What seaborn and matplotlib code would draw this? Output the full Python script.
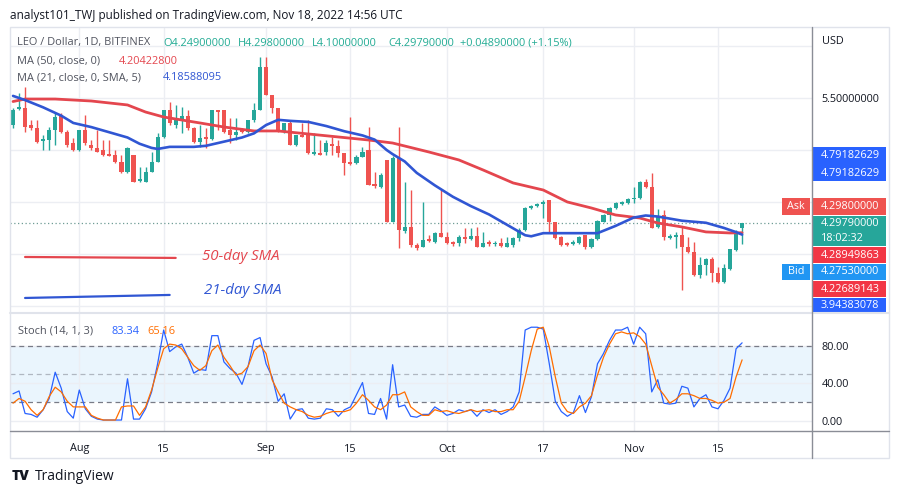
import numpy as np
import pandas as pd
import matplotlib
matplotlib.use("Agg")
import matplotlib.pyplot as plt
import seaborn as sns
from matplotlib.lines import Line2D
from matplotlib.patches import Rectangle

# ---------------- data ----------------
start_date = "2022-07-21"
opens = [5.240, 5.394, 5.404, 5.240, 5.212, 5.087, 5.096, 5.192, 5.337, 5.173,
         5.067, 5.000, 5.192, 5.048, 5.019, 5.000, 4.962, 4.952, 4.885, 4.788,
         4.952, 4.702, 4.692, 4.788, 4.885, 5.125, 5.385, 5.240, 5.298, 5.327,
         5.212, 5.077, 5.125, 5.106, 5.385, 5.385, 5.192, 5.144, 5.192, 5.173,
         5.288, 5.385, 5.798, 5.529, 5.404, 5.173, 5.260, 5.048, 5.144, 5.144,
         4.962, 4.971, 4.981, 5.058, 5.038, 4.971, 4.885, 4.875, 4.933, 5.000,
         4.673, 4.644, 4.904, 4.308, 4.923, 4.221, 4.260, 4.087, 4.067, 4.144,
         4.115, 4.202, 4.164, 4.115, 4.106, 4.164, 4.144, 4.173, 4.067, 4.115,
         4.096, 4.106, 4.067, 4.087, 4.154, 4.231, 4.442, 4.462, 4.481, 4.519,
         4.308, 4.164, 4.106, 4.096, 4.106, 4.183, 4.067, 4.144, 4.308, 4.375,
         4.442, 4.481, 4.490, 4.529, 4.538, 4.692, 4.644, 4.260, 4.375, 4.154,
         4.164, 4.183, 4.067, 4.019, 3.798, 3.894, 3.952, 3.817, 3.731, 3.856,
         4.038, 4.249]
highs = [5.404, 5.548, 5.606, 5.288, 5.288, 5.144, 5.221, 5.356, 5.356, 5.192,
         5.115, 5.192, 5.337, 5.096, 5.192, 5.096, 5.096, 5.000, 4.952, 5.029,
         4.952, 4.837, 4.837, 4.981, 5.163, 5.385, 5.462, 5.433, 5.413, 5.385,
         5.221, 5.240, 5.212, 5.385, 5.385, 5.385, 5.308, 5.308, 5.212, 5.288,
         5.452, 5.894, 5.894, 5.529, 5.404, 5.260, 5.288, 5.144, 5.260, 5.288,
         5.163, 5.096, 5.096, 5.125, 5.096, 4.971, 5.317, 4.952, 5.029, 5.221,
         4.788, 4.779, 4.904, 4.942, 5.221, 4.692, 4.615, 4.106, 4.500, 4.183,
         4.212, 4.625, 4.212, 4.125, 4.183, 4.250, 4.250, 4.260, 4.212, 4.135,
         4.125, 4.154, 4.164, 4.164, 4.250, 4.452, 4.471, 4.490, 4.519, 4.519,
         4.308, 4.173, 4.115, 4.135, 4.173, 4.183, 4.154, 4.327, 4.385, 4.452,
         4.500, 4.510, 4.538, 4.644, 4.702, 4.721, 4.779, 4.433, 4.423, 4.192,
         4.212, 4.260, 4.164, 4.115, 3.971, 3.962, 3.971, 3.875, 3.904, 4.048,
         4.231, 4.298]
lows = [5.212, 5.385, 5.173, 5.192, 5.067, 5.000, 5.000, 5.048, 5.163, 5.029,
        4.990, 4.990, 5.048, 5.000, 4.981, 4.942, 4.942, 4.875, 4.779, 4.779,
        4.692, 4.692, 4.692, 4.788, 4.885, 5.115, 5.240, 5.212, 5.163, 5.192,
        5.067, 5.029, 5.019, 5.096, 5.192, 5.163, 5.067, 5.096, 5.163, 5.163,
        5.269, 5.385, 5.529, 5.356, 5.173, 5.163, 5.048, 5.038, 5.125, 4.962,
        4.952, 4.952, 4.952, 4.952, 4.933, 4.760, 4.856, 4.865, 4.933, 4.663,
        4.635, 4.635, 4.308, 4.308, 4.058, 4.202, 4.067, 4.038, 4.067, 4.115,
        4.106, 4.164, 4.096, 4.077, 4.077, 4.106, 4.135, 4.067, 4.067, 4.077,
        4.077, 4.067, 4.067, 4.067, 4.125, 4.221, 4.433, 4.452, 4.346, 4.212,
        4.144, 4.077, 4.077, 4.087, 4.096, 4.048, 4.058, 4.135, 4.308, 4.317,
        4.433, 4.471, 4.481, 4.490, 4.529, 4.635, 4.250, 4.250, 4.135, 4.144,
        4.058, 3.654, 4.010, 3.788, 3.769, 3.798, 3.731, 3.721, 3.721, 3.846,
        4.029, 4.100]
closes = [5.385, 5.413, 5.221, 5.212, 5.077, 5.106, 5.192, 5.317, 5.173, 5.048,
          5.000, 5.192, 5.067, 5.019, 4.981, 4.952, 4.942, 4.885, 4.788, 5.019,
          4.692, 4.721, 4.788, 4.885, 5.125, 5.385, 5.260, 5.308, 5.327, 5.212,
          5.077, 5.115, 5.106, 5.385, 5.365, 5.173, 5.144, 5.173, 5.173, 5.288,
          5.385, 5.798, 5.529, 5.404, 5.173, 5.260, 5.048, 5.144, 5.125, 4.971,
          4.981, 4.952, 5.067, 5.038, 4.971, 4.875, 4.865, 4.933, 4.981, 4.663,
          4.654, 4.760, 4.308, 4.923, 4.231, 4.260, 4.087, 4.058, 4.135, 4.125,
          4.202, 4.164, 4.106, 4.096, 4.164, 4.144, 4.173, 4.067, 4.106, 4.096,
          4.106, 4.077, 4.106, 4.154, 4.231, 4.442, 4.462, 4.481, 4.500, 4.308,
          4.154, 4.087, 4.087, 4.115, 4.164, 4.067, 4.144, 4.317, 4.375, 4.442,
          4.490, 4.500, 4.529, 4.538, 4.692, 4.644, 4.250, 4.356, 4.164, 4.173,
          4.183, 4.067, 4.019, 3.798, 3.894, 3.952, 3.817, 3.731, 3.865, 4.048,
          4.212, 4.2979]

ma50_idx = [0, 2, 7, 13, 19, 22, 25, 31, 35, 40, 44, 49, 54, 59, 63, 69, 74, 78,
            83, 88, 92, 96, 100, 104, 107, 111, 115, 119, 121]
ma50_val = [5.466, 5.490, 5.490, 5.471, 5.433, 5.365, 5.317, 5.260, 5.221, 5.183,
            5.183, 5.154, 5.125, 5.096, 5.067, 4.981, 4.904, 4.808, 4.683, 4.615,
            4.500, 4.442, 4.375, 4.346, 4.298, 4.260, 4.212, 4.202, 4.204]
ma21_idx = [0, 2, 5, 8, 10, 13, 16, 19, 21, 23, 24, 26, 30, 32, 35, 38, 40, 42, 44,
            46, 49, 52, 55, 58, 60, 62, 63, 65, 67, 70, 73, 76, 79, 82, 85, 86, 88,
            91, 94, 97, 100, 103, 105, 107, 111, 115, 118, 120, 121]
ma21_val = [5.52, 5.48, 5.41, 5.33, 5.26, 5.22, 5.17, 5.12, 5.06, 5.02, 5.01, 5.03,
            5.03, 5.04, 5.08, 5.12, 5.16, 5.24, 5.29, 5.28, 5.27, 5.23, 5.18, 5.14,
            5.10, 5.00, 4.96, 4.89, 4.78, 4.66, 4.55, 4.46, 4.38, 4.28, 4.18, 4.17,
            4.20, 4.20, 4.20, 4.20, 4.27, 4.35, 4.37, 4.36, 4.32, 4.30, 4.25, 4.21,
            4.186]

stoch_k = [29, 32, 8, 7, 4, 12, 24, 52, 35, 10, 3, 33, 13, 5, 2, 1, 1, 1, 1, 45,
           2, 2, 13, 31, 61, 97, 74, 79, 82, 68, 51, 55, 54, 91, 91, 63, 56, 51, 39, 58,
           86, 89, 61, 47, 21, 29, 2, 12, 13, 3, 2, 3, 13, 12, 5, 12, 15, 28, 41, 8,
           7, 24, 2, 60, 15, 17, 5, 4, 7, 7, 15, 11, 6, 8, 12, 10, 12, 5, 12, 9,
           12, 7, 10, 15, 31, 97, 100, 100, 98, 61, 21, 10, 5, 9, 27, 9, 26, 61, 72, 86,
           97, 97, 100, 82, 100, 93, 31, 44, 19, 18, 19, 37, 35, 15, 24, 28, 15, 13, 22, 35,
           77, 83.34]
stoch_d = [19, 24, 21, 12, 6, 12, 26, 36, 31, 21, 15, 15, 15, 6, 3, 1, 1, 1, 15, 16,
           16, 6, 15, 33, 56, 77, 82, 81, 77, 68, 59, 54, 59, 75, 81, 68, 59, 49, 51, 58,
           75, 81, 72, 44, 31, 19, 15, 12, 10, 6, 4, 5, 8, 10, 10, 10, 12, 19, 28, 22,
           15, 12, 17, 28, 28, 31, 15, 10, 6, 6, 12, 10, 11, 9, 8, 10, 12, 10, 11, 12,
           10, 10, 12, 12, 21, 47, 75, 98, 100, 79, 47, 19, 10, 8, 15, 19, 27, 49, 68, 82,
           93, 95, 93, 94, 90, 82, 59, 36, 28, 19, 23, 29, 29, 27, 24, 24, 22, 19, 20, 24,
           47, 65.16]

tick_dates = ["2022-08-01", "2022-08-15", "2022-09-01", "2022-09-15",
              "2022-10-01", "2022-10-17", "2022-11-01", "2022-11-15"]
tick_labels = ["Aug", "15", "Sep", "15", "Oct", "17", "Nov", "15"]
price_ticks = [3.5, 4.0, 4.5, 5.0, 5.5, 6.0]
stoch_ticks = [0, 40, 80]

# analyst drawings (index, price)
sma50_note = ([2, 27], [3.971, 3.962])
sma21_note = ([2, 26], [3.577, 3.606])

# right-hand price tags: (top px, bottom px, color, lines)
tags = [
    (147, 181, "#2962ff", [("4.79182629", 155), ("4.79182629", 173)]),
    (198, 215, "#ef5350", [("4.29800000", 207)]),
    (216, 246, "#26a69a", [("4.29790000", 224), ("18:02:32", 238)]),
    (247, 263, "#f23645", [("4.28949863", 255)]),
    (264, 280, "#2196f3", [("4.27530000", 272)]),
    (281, 297, "#f23645", [("4.22689143", 289)]),
    (298, 314, "#2962ff", [("3.94383078", 306)]),
]

# ---------------- style ----------------
sns.set_theme(style="white")
plt.rcParams["font.family"] = ["Open Sans", "DejaVu Sans"]

GREEN = "#26a69a"
RED = "#ef5350"
MA50_C = "#e4464e"
MA21_C = "#3056d3"
TXT = "#131722"
GRID = "#eceef3"

W, H = 900, 493
fig = plt.figure(figsize=(9, 4.93), dpi=100)


def fx(x):
    return x / W


def fy(y):
    return 1 - y / H


ax = fig.add_axes([fx(10), fy(312), fx(812) - fx(10), fy(28) - fy(312)])
ax2 = fig.add_axes([fx(10), fy(431), fx(812) - fx(10), fy(314) - fy(431)], sharex=ax)

dates = pd.date_range(start_date, periods=len(closes), freq="D")
df = pd.DataFrame({"date": dates, "open": opens, "high": highs, "low": lows, "close": closes})
up = df["close"] >= df["open"]
cols = np.where(up, GREEN, RED)

# candles
ax.vlines(df["date"], df["low"], df["high"], colors=cols, lw=1, zorder=3)
body_low = np.minimum(df["open"], df["close"])
body_h = np.maximum((df["close"] - df["open"]).abs(), 0.012)
ax.bar(df["date"], body_h, bottom=body_low, width=0.68, color=cols, linewidth=0, zorder=4)

# moving averages
sns.lineplot(x=dates[ma50_idx], y=ma50_val, ax=ax, color=MA50_C, lw=2, zorder=5)
sns.lineplot(x=dates[ma21_idx], y=ma21_val, ax=ax, color=MA21_C, lw=1.9, zorder=5)

# current price dotted line
ax.axhline(closes[-1], ls=(0, (1, 2)), color="#6f9c95", lw=0.9, zorder=2)

# analyst drawings
ax.plot(dates[sma50_note[0]], sma50_note[1], color=MA50_C, lw=1.6, zorder=5)
ax.plot(dates[sma21_note[0]], sma21_note[1], color=MA21_C, lw=1.6, zorder=5)

x0 = dates[0] - pd.Timedelta(hours=12)
x1 = dates[0] + pd.Timedelta(days=132.6)
ax.set_xlim(x0, x1)
ax.set_ylim(3.442, 6.173)
ax.set_yticks(price_ticks)
ax.set_yticklabels(["5.50000000" if t == 5.5 else "" for t in price_ticks])
ax.yaxis.tick_right()
ax.tick_params(axis="y", length=0, pad=7, labelsize=7.8, labelcolor=TXT)
ax.tick_params(axis="x", length=0, labelbottom=False)
ax.grid(True, color=GRID, lw=1)
ax.set_axisbelow(True)
ax.set_xlabel("")
ax.set_ylabel("")
for s in ax.spines.values():
    s.set_visible(False)

# stochastic panel
ax2.axhspan(20, 80, color="#2196f3", alpha=0.09, lw=0, zorder=0)
ax2.axhline(80, ls=(0, (4, 3)), color="#787b86", lw=0.9, zorder=1)
ax2.axhline(50, ls=(0, (4, 3)), color="#787b86", lw=0.9, alpha=0.5, zorder=1)
ax2.axhline(20, ls=(0, (4, 3)), color="#787b86", lw=0.9, zorder=1)
sns.lineplot(x=dates, y=stoch_k, ax=ax2, color="#2962ff", lw=0.9, zorder=3)
sns.lineplot(x=dates, y=stoch_d, ax=ax2, color="#ff6d00", lw=0.9, zorder=3)
ax2.set_ylim(-10.7, 114.1)
ax2.set_yticks(stoch_ticks)
ax2.set_yticklabels([f"{t:.2f}" for t in stoch_ticks])
ax2.yaxis.tick_right()
ax2.tick_params(axis="y", length=0, pad=7, labelsize=7.8, labelcolor=TXT)
ax2.set_xticks(pd.to_datetime(tick_dates))
ax2.set_xticklabels(tick_labels)
ax2.tick_params(axis="x", length=0, pad=9, labelsize=7.8, labelcolor=TXT)
ax2.grid(True, color=GRID, lw=1)
ax2.set_axisbelow(True)
ax2.set_xlabel("")
ax2.set_ylabel("")
for s in ax2.spines.values():
    s.set_visible(False)
ax2.set_xlim(x0, x1)

# ---------------- frame ----------------
fig.add_artist(Rectangle((fx(10), fy(458)), fx(889) - fx(10), fy(27) - fy(458),
                         transform=fig.transFigure, fill=False, ec="#e0e3eb", lw=1))
fig.add_artist(Line2D([fx(10), fx(889)], [fy(313), fy(313)], transform=fig.transFigure,
                      color="#e0e3eb", lw=1.5))
fig.add_artist(Line2D([fx(812), fx(812)], [fy(27), fy(458)], transform=fig.transFigure,
                      color="#8a8d96", lw=1))
fig.add_artist(Line2D([fx(10), fx(889)], [fy(431), fy(431)], transform=fig.transFigure,
                      color="#8a8d96", lw=1))


def T(x, y, s, **kw):
    kw.setdefault("va", "center")
    kw.setdefault("ha", "left")
    fig.text(fx(x), fy(y), s, **kw)


# title and legends
T(10, 15, "analyst101_TWJ published on TradingView.com, Nov 18, 2022 14:56 UTC",
  fontsize=8.5, color=TXT)
HS = 7.9
T(17, 43, "LEO / Dollar, 1D, BITFINEX", fontsize=HS, color="#50535e")
for xx, s in [(163, "O4.24900000"), (238, "H4.29800000"), (312, "L4.10000000"),
              (388, "C4.29790000"), (460, "+0.04890000 (+1.15%)")]:
    T(xx, 43, s, fontsize=HS, color="#22ab94")
T(17, 61, "MA (50, close, 0)", fontsize=HS, color="#50535e")
T(119, 61, "4.20422800", fontsize=HS, color=MA50_C)
T(17, 78, "MA (21, close, 0, SMA, 5)", fontsize=HS, color="#50535e")
T(163, 78, "4.18588095", fontsize=HS, color=MA21_C)
T(18, 331, "Stoch (14, 1, 3)", fontsize=HS, color="#50535e")
T(111, 331, "83.34", fontsize=HS, color="#2962ff")
T(147, 331, "65.16", fontsize=HS, color="#ff6d00")
T(822, 41, "USD", fontsize=7.8, color=TXT)

T(202, 256, "50-day SMA", fontsize=10.8, color=MA50_C, style="italic")
T(204, 291, "21-day SMA", fontsize=10.8, color=MA21_C, style="italic")

# right price tags
for top, bot, c, lines in tags:
    fig.add_artist(Rectangle((fx(812), fy(bot)), fx(886) - fx(812), fy(top) - fy(bot),
                             transform=fig.transFigure, color=c, lw=0))
    for s, yy in lines:
        T(821, yy, s, fontsize=7.8, color="white")
for top, bot, c, s in [(198, 215, "#ef5350", "Ask"), (264, 280, "#2196f3", "Bid")]:
    fig.add_artist(Rectangle((fx(782), fy(bot)), fx(810) - fx(782), fy(top) - fy(bot),
                             transform=fig.transFigure, color=c, lw=0))
    T(796, (top + bot) / 2, s, fontsize=7.8, color="white", ha="center")

# footer
T(12, 476, "TV", fontsize=10, color=TXT, fontweight="heavy")
T(35, 476, "TradingView", fontsize=10, color=TXT)

fig.savefig("out.png", dpi=100)
